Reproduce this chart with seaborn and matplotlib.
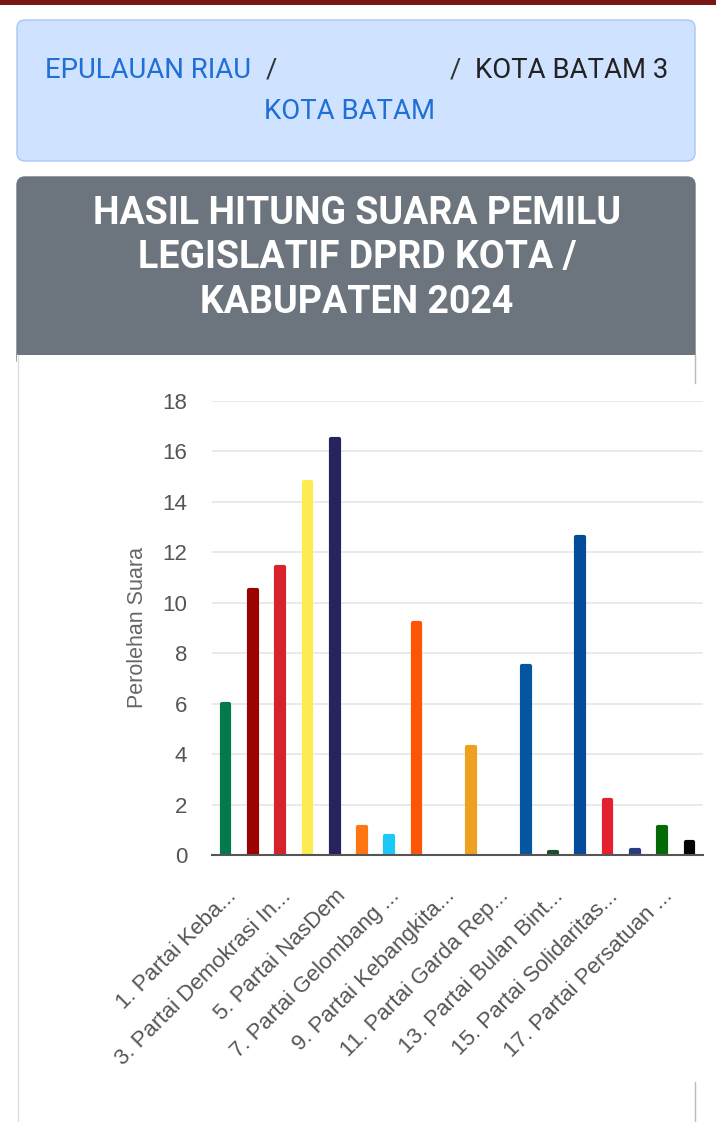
import matplotlib
matplotlib.use("Agg")
import matplotlib.pyplot as plt
from matplotlib.patches import FancyBboxPatch, Rectangle
import pandas as pd
import seaborn as sns

# parties (full names are cut in the chart, so only the visible parts are used)
parties = ['1. Partai Keba...', '2', '3. Partai Demokrasi In...', '4', '5. Partai NasDem', '6',
           '7. Partai Gelombang ...', '8', '9. Partai Kebangkita...', '10', '11. Partai Garda Rep...', '12',
           '13. Partai Bulan Bint...', '14', '15. Partai Solidaritas...', '16', '17. Partai Persatuan ...', '18']
votes = [6.0, 10.5, 11.4, 14.8, 16.5, 1.1, 0.75, 9.2, 0.0, 4.3, 0.0, 7.5, 0.13, 12.6, 2.2, 0.2, 1.1, 0.53]
colors = ['#04794b', '#9b0303', '#d6222b', '#fdeb52', '#26235f', '#ff7413', '#1cc8f7', '#fd5405', '#888888',
          '#eea11f', '#888888', '#0456a0', '#1c4d33', '#044c9b', '#e4202f', '#2b3b82', '#036a07', '#050505']
yticks = [0, 2, 4, 6, 8, 10, 12, 14, 16, 18]

df = pd.DataFrame({'partai': parties, 'suara': votes})

plt.rcParams['font.family'] = ['Roboto', 'DejaVu Sans']
chart_font = ['Liberation Sans', 'DejaVu Sans']

W, H = 716, 1122
fig = plt.figure(figsize=(W / 100, H / 100), dpi=100)
fig.patch.set_facecolor('white')

# page background drawn in pixel coords
bg = fig.add_axes([0, 0, 1, 1])
bg.set_xlim(0, W)
bg.set_ylim(H, 0)
bg.axis('off')

bg.add_patch(Rectangle((0, 0), W, 5, color='#7b1616', lw=0))
bg.add_patch(FancyBboxPatch((17, 20), 678, 141, boxstyle='round,pad=0,rounding_size=8',
                            fc='#cfe2ff', ec='#a9c8f5', lw=1))
bg.text(45, 70, 'EPULAUAN RIAU', color='#1f6fd6', fontsize=19.8, va='center', ha='left')
bg.text(271, 70, '/', color='#333333', fontsize=19.8, va='center', ha='center')
bg.text(455, 70, '/', color='#333333', fontsize=19.8, va='center', ha='center')
bg.text(475, 70, 'KOTA BATAM 3', color='#222222', fontsize=19.8, va='center', ha='left')
bg.text(350, 111, 'KOTA BATAM', color='#1f6fd6', fontsize=19.8, va='center', ha='center')

# card
bg.add_patch(FancyBboxPatch((17, 177), 678, 190, boxstyle='round,pad=0,rounding_size=8',
                            fc='#6c757d', ec='#6c757d', lw=1))
bg.add_patch(Rectangle((17, 355), 678, H - 355, fc='white', ec='none'))
bg.plot([17.5, 17.5], [355, H], color='#dddddd', lw=1)
bg.plot([695, 695], [355, 383], color='#bbbbbb', lw=1)
bg.plot([695, 695], [1082, H], color='#bbbbbb', lw=1)
title_lines = ['HASIL HITUNG SUARA PEMILU', 'LEGISLATIF DPRD KOTA /', 'KABUPATEN 2024']
for i, line in enumerate(title_lines):
    bg.text(357, 213 + i * 44.5, line, color='white', fontsize=27, fontweight='bold',
            ha='center', va='center')

# chart
ax = fig.add_axes([212 / W, 1 - 855 / H, (703 - 212) / W, (855 - 401) / H])
ax.patch.set_alpha(0)
sns.barplot(data=df, x='partai', y='suara', hue='partai', palette=colors, legend=False,
            saturation=1, width=0.28, ax=ax, zorder=3)
# thick same-colour edge with round joins gives the rounded bar tops
for bar, v in zip(ax.patches, votes):
    bar.set_edgecolor(bar.get_facecolor())
    bar.set_linewidth(3.0 if v > 0 else 0)
    bar.set_joinstyle('round')

ax.set_ylim(0, 18)
ax.set_xlim(-0.5, len(parties) - 0.5)
ax.set_yticks(yticks)
ax.set_yticklabels([str(t) for t in yticks], fontsize=16, color='#555555', family=chart_font)
ax.set_xticks(range(0, len(parties), 2))
ax.set_xticklabels(parties[::2], rotation=45, ha='right', rotation_mode='anchor',
                   fontsize=16, color='#555555', family=chart_font)
ax.tick_params(axis='y', length=0, pad=18)
ax.tick_params(axis='x', length=0, pad=22)
ax.grid(axis='y', color='#e6e6e6', lw=1.2, zorder=0)
ax.set_axisbelow(True)
for s in ['top', 'right', 'left']:
    ax.spines[s].set_visible(False)
ax.spines['bottom'].set_color('#555555')
ax.spines['bottom'].set_linewidth(1.5)
ax.spines['bottom'].set_zorder(4)
ax.set_xlabel('')
ax.set_ylabel('Perolehan Suara', fontsize=15.5, color='#666666', labelpad=10, family=chart_font)

fig.savefig('out.png', dpi=100)
